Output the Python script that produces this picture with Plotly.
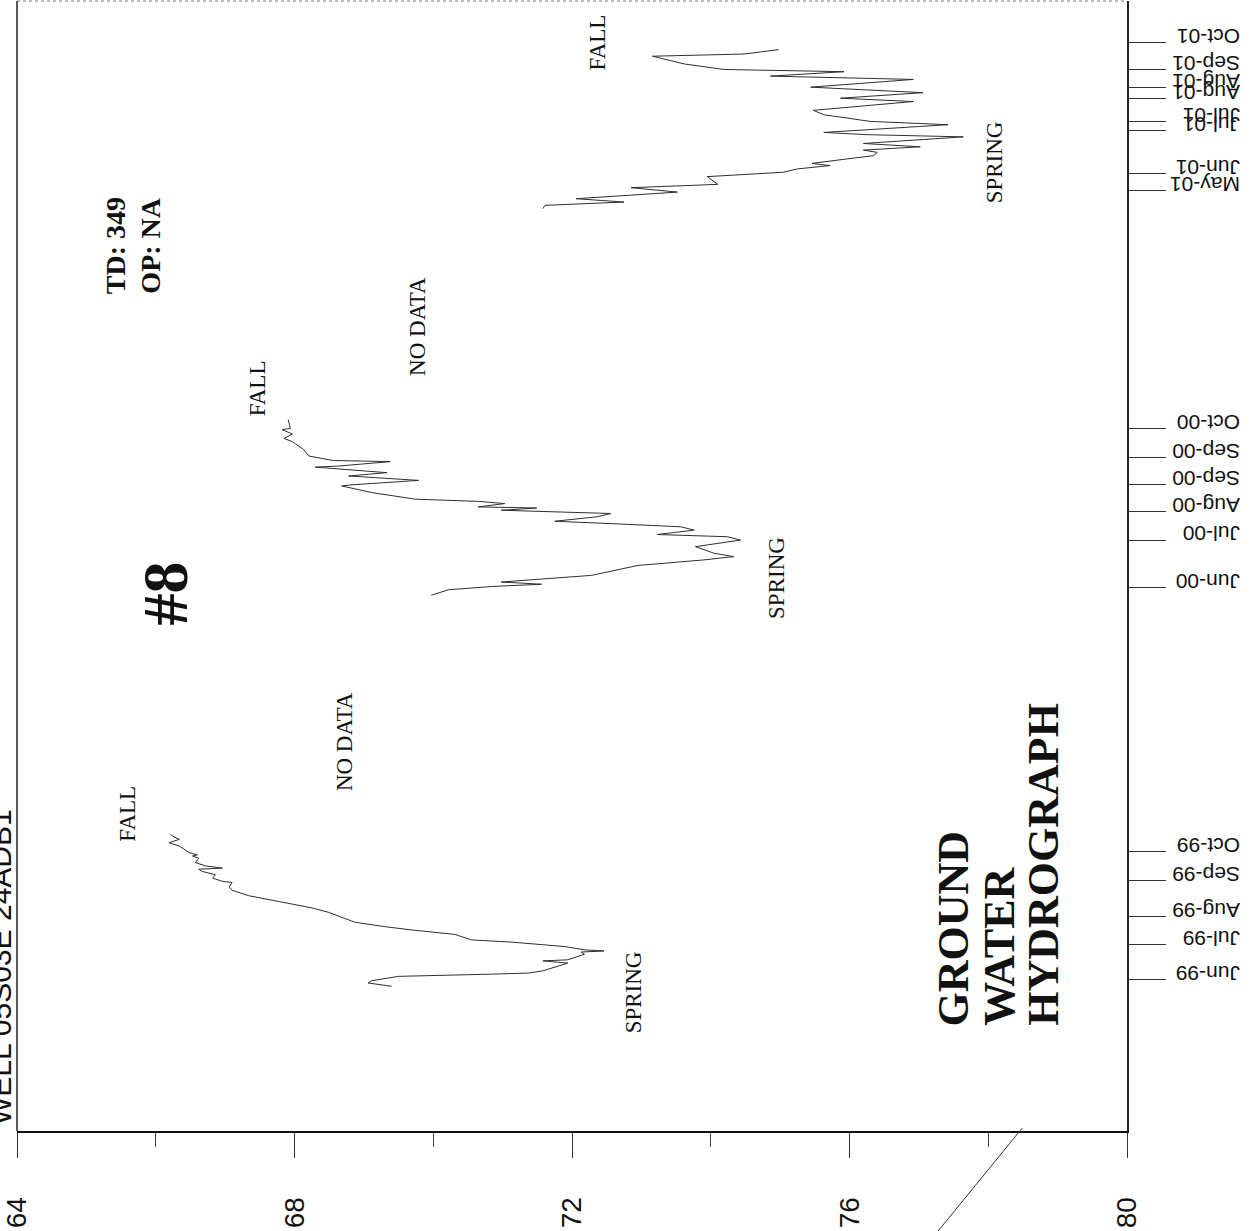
import plotly.graph_objects as go

# ---------------- data (depth to water, ft) ----------------
dates_1999 = ["1999-06-09", "1999-06-12", "1999-06-14", "1999-06-18", "1999-06-20", "1999-06-21",
              "1999-06-23", "1999-06-30", "1999-07-02", "1999-07-03", "1999-07-08", "1999-07-10",
              "1999-07-11", "1999-07-12", "1999-07-15", "1999-07-16", "1999-07-19", "1999-07-21",
              "1999-07-24", "1999-07-26", "1999-07-30", "1999-08-02", "1999-08-06", "1999-08-07",
              "1999-08-15", "1999-08-19", "1999-08-22", "1999-08-27", "1999-08-30", "1999-09-04",
              "1999-09-07", "1999-09-11", "1999-09-12", "1999-09-15", "1999-09-18", "1999-09-21",
              "1999-09-23", "1999-09-24", "1999-09-26", "1999-09-29", "1999-10-03", "1999-10-05",
              "1999-10-06", "1999-10-08", "1999-10-14", "1999-10-17", "1999-10-20", "1999-10-23",
              "1999-10-25"]
depth_1999 = [69.40, 69.06, 69.11, 69.50, 70.84, 71.37,
              71.58, 71.94, 71.58, 71.94, 72.18, 72.13,
              72.46, 72.18, 71.89, 71.70, 71.13, 70.55,
              70.41, 70.31, 69.69, 69.30, 68.87, 68.83,
              68.49, 68.25, 68.01, 67.58, 67.34, 67.10,
              67.06, 67.10, 66.96, 66.82, 66.86, 66.67,
              66.62, 66.96, 66.72, 66.57, 66.62, 66.53,
              66.60, 66.48, 66.34, 66.19, 66.34, 66.24,
              66.21]

dates_2000 = ["2000-05-28", "2000-06-02", "2000-06-05", "2000-06-07", "2000-06-09", "2000-06-14",
              "2000-06-15", "2000-06-24", "2000-06-29", "2000-07-02", "2000-07-05", "2000-07-11",
              "2000-07-17", "2000-07-20", "2000-07-22", "2000-07-26", "2000-07-29", "2000-08-01",
              "2000-08-03", "2000-08-07", "2000-08-10", "2000-08-13", "2000-08-15", "2000-08-16",
              "2000-08-19", "2000-08-21", "2000-08-23", "2000-08-29", "2000-09-04", "2000-09-05",
              "2000-09-09", "2000-09-13", "2000-09-16", "2000-09-21", "2000-09-22", "2000-09-26",
              "2000-09-27", "2000-10-01", "2000-10-07", "2000-10-14", "2000-10-17", "2000-10-21",
              "2000-10-25", "2000-10-26", "2000-11-03"]
depth_2000 = [69.97, 70.22, 70.86, 71.56, 70.98, 72.13,
              72.28, 72.95, 73.90, 74.33, 74.05, 73.78,
              74.43, 74.24, 73.23, 73.76, 73.57, 72.52,
              71.75, 72.35, 72.56, 70.98, 71.49, 70.65,
              71.03, 70.65, 69.74, 69.11, 68.68, 68.83,
              69.79, 68.78, 69.33, 68.30, 68.64, 69.38,
              68.56, 68.21, 68.13, 67.97, 67.85, 67.97,
              67.82, 67.94, 67.91]

dates_2001 = ["2001-05-13", "2001-05-16", "2001-05-19", "2001-05-22", "2001-05-28", "2001-06-01",
              "2001-06-04", "2001-06-11", "2001-06-15", "2001-06-18", "2001-06-21", "2001-06-23",
              "2001-06-27", "2001-06-30", "2001-07-03", "2001-07-05", "2001-07-08", "2001-07-11",
              "2001-07-17", "2001-07-19", "2001-07-21", "2001-07-23", "2001-07-28", "2001-07-31",
              "2001-08-06", "2001-08-10", "2001-08-18", "2001-08-21", "2001-08-26", "2001-08-31",
              "2001-09-07", "2001-09-10", "2001-09-14", "2001-09-16", "2001-09-21", "2001-09-28",
              "2001-09-30", "2001-10-04"]
depth_2001 = [71.58, 71.61, 72.75, 72.06, 73.52, 72.85,
              74.10, 73.95, 75.05, 75.25, 75.72, 75.46,
              75.96, 76.35, 76.40, 76.20, 77.02, 76.20,
              77.64, 76.25, 75.63, 76.11, 77.42, 76.30,
              75.63, 75.48, 76.92, 75.87, 77.06, 75.44,
              76.92, 74.86, 75.92, 74.19, 73.62, 73.16,
              74.48, 74.98]

tick_dates = ["1999-06-15", "1999-07-17", "1999-08-11", "1999-09-13", "1999-10-09",
              "2000-06-04", "2000-07-17", "2000-08-12", "2000-09-05", "2000-09-30", "2000-10-26",
              "2001-05-29", "2001-06-14", "2001-07-23", "2001-07-31", "2001-08-21", "2001-08-31",
              "2001-09-16", "2001-10-10"]
tick_labels = ["Jun-99", "Jul-99", "Aug-99", "Sep-99", "Oct-99",
               "Jun-00", "Jul-00", "Aug-00", "Sep-00", "Sep-00", "Oct-00",
               "May-01", "Jun-01", "Jul-01", "Jul-01", "Aug-01", "Aug-01",
               "Sep-01", "Oct-01"]

depth_ticks = [64, 68, 72, 76, 80]

# ---------------- layout geometry ----------------
W, H = 1258, 1231
ML, MR, MT, MB = 14, 131, 1, 100
PW = W - ML - MR
PH = H - MT - MB


def fx(x):
    return (x - ML) / PW


def fy(y):
    return (H - MB - y) / PH


SERIF = "Liberation Serif, Times New Roman, serif"
SANS = "Liberation Sans, Arial, sans-serif"

fig = go.Figure()
for d, v in [(dates_1999, depth_1999), (dates_2000, depth_2000), (dates_2001, depth_2001)]:
    fig.add_trace(go.Scatter(x=v, y=d, mode="lines",
                             line=dict(color="#2e2e2e", width=1),
                             hoverinfo="skip", showlegend=False))

annots = []


def add_text(text, cx, cy, size, family=SERIF, xanchor="center", yanchor="middle"):
    annots.append(dict(text=text, x=fx(cx), y=fy(cy), xref="paper", yref="paper",
                       textangle=-90, showarrow=False, xanchor=xanchor, yanchor=yanchor,
                       font=dict(family=family, size=size, color="#111")))


add_text("FALL", 125, 814, 23)
add_text("NO DATA", 342, 742, 23)
add_text("SPRING", 632, 992, 23)
add_text("<b>#8</b>", 162, 594, 64)
add_text("SPRING", 775, 578, 23)
add_text("FALL", 255, 388, 23)
add_text("NO DATA", 415, 326, 23)
add_text("<b>TD: 349</b>", 113, 296, 28, yanchor="bottom")
add_text("<b>OP: NA</b>", 148, 296, 28, yanchor="bottom")
add_text("FALL", 596, 42, 23)
add_text("SPRING", 995, 162, 23)
add_text("<b>GROUND</b>", 953, 1028, 44, yanchor="bottom")
add_text("<b>WATER</b>", 999, 1028, 44, yanchor="bottom")
add_text("<b>HYDROGRAPH</b>", 1043, 1028, 44, yanchor="bottom")
add_text("WELL 05S03E 24ADB1", -3, 1127, 30, family=SANS, yanchor="bottom")

shapes = [
    # left and top frame of the plotting area
    dict(type="line", xref="paper", yref="paper", x0=0, x1=0, y0=0, y1=1,
         line=dict(color="#222", width=1.5)),
    dict(type="line", xref="paper", yref="paper", x0=0, x1=1, y0=1, y1=1,
         line=dict(color="#777", width=1, dash="dot")),
    # stray diagonal stroke near the lower right
    dict(type="line", xref="paper", yref="paper", x0=fx(1022), y0=fy(1128), x1=fx(936), y1=fy(1233),
         line=dict(color="#333", width=1)),
]

fig.update_layout(
    width=W, height=H,
    margin=dict(l=ML, r=MR, t=MT, b=MB, pad=0),
    paper_bgcolor="white", plot_bgcolor="white",
    showlegend=False,
    annotations=annots,
    shapes=shapes,
    xaxis=dict(range=[64, 80], tickvals=depth_ticks, ticks="outside", ticklen=25, tickwidth=1,
               tickcolor="#333", showgrid=False, zeroline=False, showline=True, linewidth=2,
               linecolor="#111", tickangle=-90, ticklabelstandoff=28, ticklabeloverflow="allow",
               tickfont=dict(family=SANS, size=28, color="#111"),
               minor=dict(dtick=2, tick0=64, ticks="outside", ticklen=14, tickwidth=1,
                          tickcolor="#444", showgrid=False)),
    yaxis=dict(type="date", range=["1999-01-29", "2001-11-17"], side="right",
               tickvals=tick_dates, ticktext=tick_labels, ticks="outside", ticklen=37,
               tickwidth=1, tickcolor="#333", showgrid=False, zeroline=False, showline=True,
               linewidth=1.5, linecolor="#222", tickangle=180, ticklabelstandoff=70,
               ticklabeloverflow="allow",
               tickfont=dict(family=SANS, size=21, color="#111")),
)

fig.write_html("out.html", config={"displayModeBar": False},
               post_script="document.body.style.margin='0';")
